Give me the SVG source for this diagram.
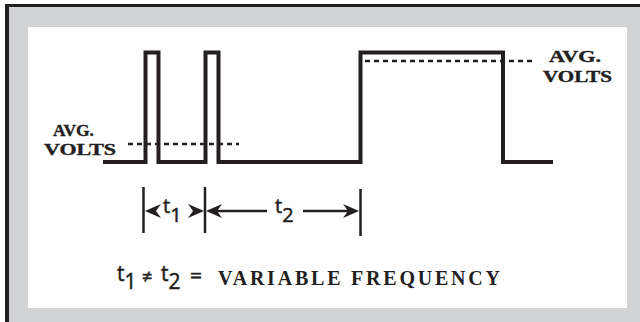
<svg xmlns="http://www.w3.org/2000/svg" width="640" height="322" viewBox="0 0 640 322">
<style>
.ink{stroke:#231f20;fill:none}
.wave{stroke-width:4;stroke-linejoin:miter}
.dash{stroke-width:2.5;stroke-dasharray:5 4}
.tick{stroke-width:2.5}
.lbl{font-family:"Liberation Serif",serif;font-weight:bold;fill:#231f20}
.avg{font-size:17px;stroke:#231f20;stroke-width:0.4}
.sym{font-family:"Open Sans","DejaVu Sans",sans-serif;fill:#231f20;stroke:#231f20;stroke-width:0.5}
.head{fill:#231f20}
</style>
<defs>
<path id="ah" d="M0,0 L-16,-7 L-11,0 L-16,7 Z"/>
</defs>
<g id="frame">
<rect x="5" y="4" width="635" height="318" fill="#d2d3d5"/>
<rect x="5" y="4" width="635" height="3" fill="#231f20"/>
<rect x="5" y="4" width="4" height="318" fill="#231f20"/>
<rect x="28" y="27" width="599" height="281" fill="#ffffff"/>
</g>
<g id="waveform">
<path class="ink wave" d="M103,162 H145.5 V52.5 H158.5 V162 H205.5 V52.5 H218.5 V162 H360.5 V52.5 H503 V162 H553"/>
</g>
<g id="avg-left">
<line class="ink dash" x1="128" y1="144" x2="239" y2="144"/>
<text class="lbl avg" x="53" y="136" textLength="41" lengthAdjust="spacingAndGlyphs">AVG.</text>
<text class="lbl avg" x="44" y="155" textLength="72" lengthAdjust="spacingAndGlyphs">VOLTS</text>
</g>
<g id="avg-right">
<line class="ink dash" x1="365" y1="61" x2="532" y2="61"/>
<text class="lbl avg" x="549" y="62" textLength="52" lengthAdjust="spacingAndGlyphs">AVG.</text>
<text class="lbl avg" x="543" y="82" textLength="69" lengthAdjust="spacingAndGlyphs">VOLTS</text>
</g>
<g id="connectors">
<line class="ink tick" x1="143.5" y1="187" x2="143.5" y2="233"/>
<line class="ink tick" x1="205" y1="187" x2="205" y2="233"/>
<line class="ink tick" x1="360.5" y1="189" x2="360.5" y2="236"/>
<use href="#ah" class="head" transform="translate(145,211) rotate(180)"/>
<use href="#ah" class="head" transform="translate(204,211)"/>
<use href="#ah" class="head" transform="translate(206,211) rotate(180)"/>
<line class="ink" stroke-width="2.5" x1="216" y1="211" x2="267" y2="211"/>
<line class="ink" stroke-width="2.5" x1="303" y1="211" x2="350" y2="211"/>
<use href="#ah" class="head" transform="translate(359,211)"/>
</g>
<g id="t1-label">
<text class="sym" x="163" y="213" font-size="20">t<tspan dy="9">1</tspan></text>
</g>
<g id="t2-label">
<text class="sym" x="275" y="213" font-size="20">t<tspan dy="9">2</tspan></text>
</g>
<g id="formula">
<text class="sym" x="117" y="281" font-size="21">t<tspan dy="8">1</tspan></text>
<text class="sym" x="142" y="283" font-size="18">≠</text>
<text class="sym" x="161" y="281" font-size="21">t<tspan dy="8">2</tspan></text>
<text class="sym" x="190" y="283" font-size="21">=</text>
<text class="lbl" x="218" y="285" font-size="20" textLength="282" lengthAdjust="spacing">VARIABLE FREQUENCY</text>
</g>
</svg>
